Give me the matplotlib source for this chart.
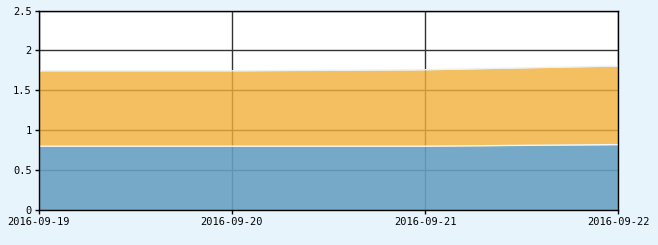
import matplotlib
matplotlib.use("Agg")
import matplotlib.pyplot as plt

dates = ["2016-09-19", "2016-09-20", "2016-09-21", "2016-09-22"]
blue_vals = [0.80, 0.80, 0.80, 0.82]
orange_vals = [0.945, 0.945, 0.958, 0.985]

plt.rcParams['font.family'] = ['DejaVu Sans Mono']

fig = plt.figure(figsize=(6.58, 2.45), dpi=100, facecolor="#e8f4fc")
ax = fig.add_axes([0.0588, 0.1429, 0.881, 0.814])
ax.set_facecolor("white")

x = list(range(len(dates)))
top = [b + o for b, o in zip(blue_vals, orange_vals)]

ax.grid(True, color="#333333", linewidth=1)
ax.set_axisbelow(True)
# grid shows through the fills a little
ax.fill_between(x, 0, blue_vals, color="#67a0c2", alpha=0.9, linewidth=0, zorder=2)
ax.fill_between(x, blue_vals, top, color="#f2b038", alpha=0.8, linewidth=0, zorder=2)
ax.plot(x, blue_vals, color="#f0f6fa", linewidth=1, zorder=3)
ax.plot(x, top, color="#eaf2f6", linewidth=1, zorder=3)

ax.set_xlim(0, 3)
ax.set_ylim(0, 2.5)
ax.set_xticks(x)
ax.set_xticklabels(dates)
ax.set_yticks([0, 0.5, 1, 1.5, 2, 2.5])
ax.set_yticklabels(["0", "0.5", "1", "1.5", "2", "2.5"])
ax.tick_params(length=3, width=1, color="black", labelsize=7.5, pad=2)
for s in ax.spines.values():
    s.set_color("black")
    s.set_linewidth(1)
    s.set_zorder(4)

fig.savefig("out.png", dpi=100, facecolor=fig.get_facecolor())
